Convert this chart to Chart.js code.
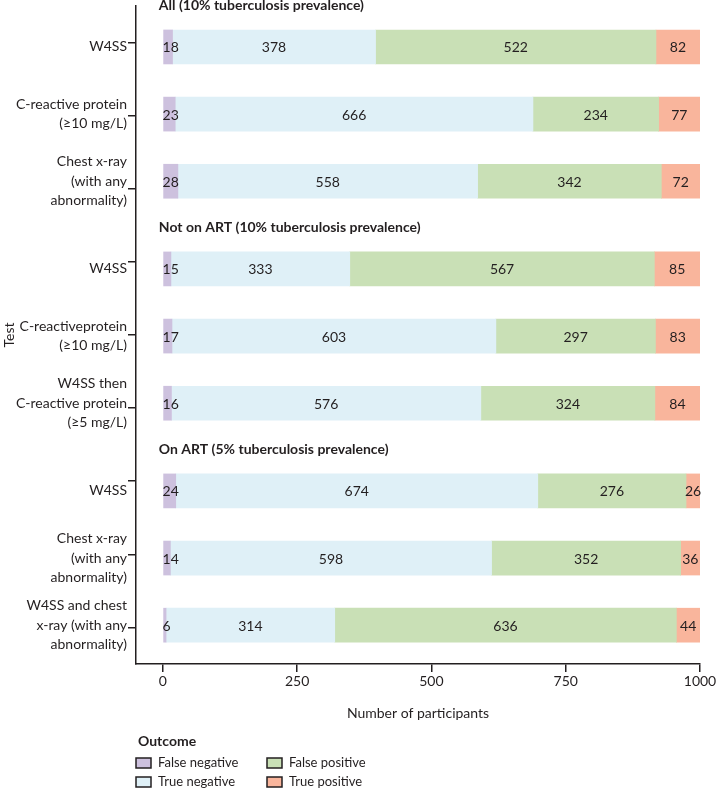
<!DOCTYPE html>
<html>
<head>
<meta charset="utf-8">
<script src="https://cdn.jsdelivr.net/npm/chart.js@4.4.1/dist/chart.umd.min.js"></script>
<style>
  html, body { margin: 0; padding: 0; background: #fff; }
  #wrap { width: 716px; height: 792px; }
</style>
</head>
<body>
<div id="wrap"><canvas id="chart"></canvas></div>
<script>
// data
const groups = ['All (10% tuberculosis prevalence)', 'Not on ART (10% tuberculosis prevalence)', 'On ART (5% tuberculosis prevalence)'];
const groupOf = [0, 0, 0, 1, 1, 1, 2, 2, 2];
const tests = [
  ['W4SS'],
  ['C-reactive protein', '(≥10 mg/L)'],
  ['Chest x-ray', '(with any', 'abnormality)'],
  ['W4SS'],
  ['C-reactiveprotein', '(≥10 mg/L)'],
  ['W4SS then', 'C-reactive protein', '(≥5 mg/L)'],
  ['W4SS'],
  ['Chest x-ray', '(with any', 'abnormality)'],
  ['W4SS and chest', 'x-ray (with any', 'abnormality)']
];
const falseNeg = [18, 23, 28, 15, 17, 16, 24, 14, 6];
const trueNeg  = [378, 666, 558, 333, 603, 576, 674, 598, 314];
const falsePos = [522, 234, 342, 567, 297, 324, 276, 352, 636];
const truePos  = [82, 77, 72, 85, 83, 84, 26, 36, 44];
const xTicks = [0, 250, 500, 750, 1000];

const INK = '#231f20';
const FONT = 'Lato, "Open Sans", sans-serif';
const HEADER_GAP = 0.306;   // extra room (in rows) that each group header takes
const HEADER_OFFSET = 0.62; // header sits this far above the first bar of its group
const Y_MIN = -0.61, Y_MAX = 9.19;

// row position of every test on the y scale
const rowPos = tests.map((t, i) => i + groupOf[i] * HEADER_GAP);
const asPoints = arr => arr.map((v, i) => ({ x: v, y: rowPos[i] }));

// value labels inside the segments
const segmentLabels = {
  id: 'segmentLabels',
  afterDatasetsDraw(chart) {
    const ctx = chart.ctx;
    ctx.save();
    ctx.font = '14px ' + FONT;
    ctx.fillStyle = INK;
    ctx.textBaseline = 'middle';
    chart.data.datasets.forEach((ds, di) => {
      chart.getDatasetMeta(di).data.forEach((bar, i) => {
        const v = ds.data[i].x;
        const start = Math.min(bar.x, bar.base);
        if (di === 0) {
          ctx.textAlign = 'left';
          ctx.fillText(v, start - 1, bar.y + 1);
        } else {
          ctx.textAlign = 'center';
          ctx.fillText(v, (bar.x + bar.base) / 2, bar.y + 1);
        }
      });
    });
    ctx.restore();
  }
};

// bold group headers
const groupHeaders = {
  id: 'groupHeaders',
  afterDraw(chart) {
    const ctx = chart.ctx;
    const xs = chart.scales.x, ys = chart.scales.y;
    ctx.save();
    ctx.font = 'bold 14px ' + FONT;
    ctx.fillStyle = INK;
    ctx.textAlign = 'left';
    ctx.textBaseline = 'middle';
    groups.forEach((g, gi) => {
      const first = groupOf.indexOf(gi);
      ctx.fillText(g, xs.getPixelForValue(0) - 4, ys.getPixelForValue(rowPos[first] - HEADER_OFFSET));
    });
    ctx.restore();
  }
};

// "Outcome" legend, two columns
const outcomeLegend = {
  id: 'outcomeLegend',
  afterDraw(chart) {
    const ctx = chart.ctx;
    const left = chart.chartArea.left;
    ctx.save();
    ctx.fillStyle = INK;
    ctx.textBaseline = 'middle';
    ctx.textAlign = 'left';
    ctx.font = 'bold 14px ' + FONT;
    ctx.fillText('Outcome', left + 2, 741);
    ctx.font = '13px ' + FONT;
    chart.data.datasets.forEach((ds, i) => {
      const col = Math.floor(i / 2), row = i % 2;
      const bx = left + col * 131, by = 763 + row * 19;
      ctx.fillStyle = ds.backgroundColor;
      ctx.fillRect(bx, by - 5, 15, 10);
      ctx.strokeStyle = INK;
      ctx.lineWidth = 1.5;
      ctx.strokeRect(bx, by - 5, 15, 10);
      ctx.fillStyle = INK;
      ctx.fillText(ds.label, bx + 22, by);
    });
    ctx.restore();
  }
};

new Chart(document.getElementById('chart'), {
  type: 'bar',
  data: {
    datasets: [
      { label: 'False negative', data: asPoints(falseNeg), backgroundColor: '#cdc1de' },
      { label: 'True negative',  data: asPoints(trueNeg),  backgroundColor: '#dff0f7' },
      { label: 'False positive', data: asPoints(falsePos), backgroundColor: '#c9e0b6' },
      { label: 'True positive',  data: asPoints(truePos),  backgroundColor: '#f9b59c' }
    ]
  },
  options: {
    indexAxis: 'y',
    responsive: true,
    maintainAspectRatio: false,
    animation: false,
    barThickness: 34,
    layout: { padding: { top: 6, right: 16, bottom: 58, left: 0 } },
    plugins: { legend: { display: false }, tooltip: { enabled: false } },
    scales: {
      x: {
        type: 'linear',
        stacked: true,
        min: -50,
        max: 1000,
        afterBuildTicks: s => { s.ticks = xTicks.map(v => ({ value: v })); },
        afterFit: s => { s.height = 70; s.paddingLeft = 0; s.paddingRight = 0; },
        grid: { drawOnChartArea: false, tickLength: 8, color: INK, lineWidth: 1.5 },
        border: { display: true, color: INK, width: 1.5 },
        ticks: { color: INK, font: { family: FONT, size: 14 }, padding: 1, maxRotation: 0,
                 callback: v => String(v) },
        title: { display: true, text: 'Number of participants', color: INK,
                 font: { family: FONT, size: 14 }, padding: { top: 4, bottom: 12 } }
      },
      y: {
        type: 'linear',
        stacked: true,
        reverse: true,
        offset: false,
        position: 'left',
        weight: 1,
        min: Y_MIN,
        max: Y_MAX,
        afterBuildTicks: s => { s.ticks = rowPos.map(v => ({ value: v })); },
        afterFit: s => { s.width = 128; s.paddingTop = 0; s.paddingBottom = 0; },
        grid: { display: false, drawTicks: false, offset: false },
        border: { display: false },
        ticks: {
          autoSkip: false,
          color: INK,
          padding: 1,
          font: { family: FONT, size: 14, lineHeight: 1.4 },
          callback: (v, i) => tests[i]
        },
        title: { display: true, text: 'Test', color: INK,
                 font: { family: FONT, size: 14 }, padding: { top: 1, bottom: 0 } }
      },
      yTicks: {
        type: 'linear',
        reverse: true,
        offset: false,
        position: 'left',
        weight: 0,
        min: Y_MIN,
        max: Y_MAX,
        afterBuildTicks: s => {
          const n = tests.length;
          s.ticks = Array.from({ length: n + 1 }, (d, k) => ({ value: Y_MIN + (Y_MAX - Y_MIN) * k / n }));
        },
        afterFit: s => { s.width = 8; s.paddingTop = 0; s.paddingBottom = 0; },
        grid: { drawOnChartArea: false, tickLength: 8, color: INK, lineWidth: 1.5 },
        border: { display: true, color: INK, width: 1.5 },
        ticks: { display: false }
      }
    }
  },
  plugins: [segmentLabels, groupHeaders, outcomeLegend]
});
</script>
</body>
</html>
